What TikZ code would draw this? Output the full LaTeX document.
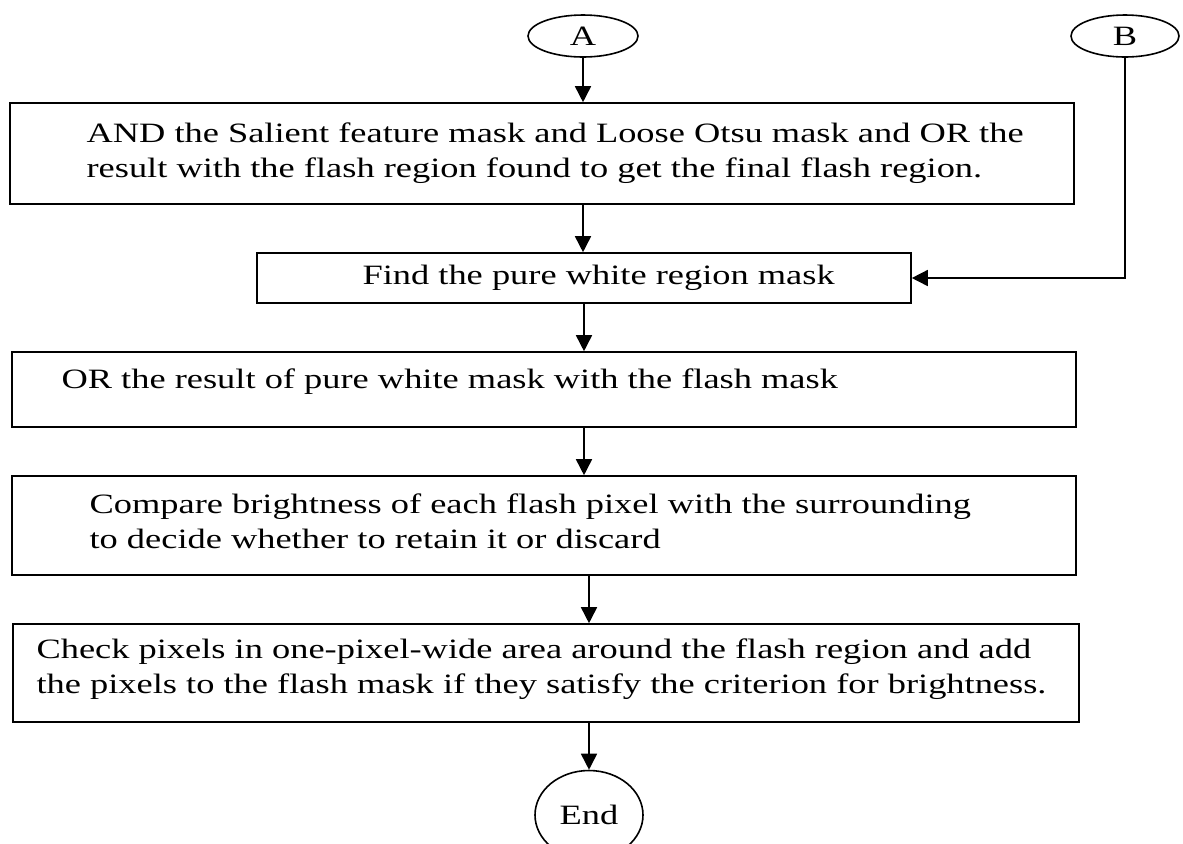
\documentclass[tikz,border=0pt]{standalone}
\usepackage{fontspec}
\setmainfont{Liberation Serif}[FakeStretch=1.3]
\usetikzlibrary{shapes.geometric,arrows.meta}

\begin{document}
\begin{tikzpicture}[x=0.5pt,y=-0.5pt,
  stepbox/.style={draw,line width=0.8pt,inner sep=0pt},
  steptext/.style={anchor=west,align=left,inner sep=0pt,font=\fontsize{14pt}{17.5pt}\selectfont},
  term/.style={draw,ellipse,line width=0.8pt,inner sep=0pt,font=\fontsize{14pt}{17.5pt}\selectfont},
  flow/.style={line width=0.8pt,-{Triangle[length=8pt,width=8pt]}}]
\useasboundingbox (0,0) rectangle (1183,843);
% connectors and terminals
\node [term,minimum width=55pt,minimum height=21pt] (A) at (583,36) {A};
\node [term,minimum width=54pt,minimum height=21pt] (B) at (1125,36) {B};
\node [term,minimum width=54pt,minimum height=44.5pt] (E) at (589,815) {End};
% process boxes
\node [stepbox,minimum width=532pt,minimum height=50.5pt] (b1) at (542,153.5) {};
\node [stepbox,minimum width=327pt,minimum height=25pt] (b2) at (584,278) {};
\node [stepbox,minimum width=532pt,minimum height=37.5pt] (b3) at (544,389.5) {};
\node [stepbox,minimum width=532pt,minimum height=49.5pt] (b4) at (544,525.5) {};
\node [stepbox,minimum width=533pt,minimum height=49pt] (b5) at (546,673) {};
\node [steptext] (t1) at ([xshift=38.5pt]b1.west) {AND the Salient feature mask and Loose Otsu mask and OR the\\result with the flash region found to get the final flash region.};
\node [steptext] (t2) at ([xshift=53pt]b2.west) {Find the pure white region mask};
\node [steptext] (t3) at ([xshift=25pt,yshift=4pt]b3.west) {OR the result of pure white mask with the flash mask};
\node [steptext] (t4) at ([xshift=39pt,yshift=2pt]b4.west) {Compare brightness of each flash pixel with the surrounding\\to decide whether to retain it or discard};
\node [steptext] (t5) at ([xshift=12pt,yshift=2pt]b5.west) {Check pixels in one-pixel-wide area around the flash region and add\\the pixels to the flash mask if they satisfy the criterion for brightness.};
% arrows
\draw [flow] (A) -- (b1.north -| A);
\draw [flow] (b1.south -| A) -- (b2.north -| A);
\draw [flow] (B) |- (b2.east);
\draw [flow] (b2.south) -- (b3.north -| b2);
\draw [flow] (b3.south -| b2) -- (b4.north -| b2);
\draw [flow] (b4.south -| E) -- (b5.north -| E);
\draw [flow] (b5.south -| E) -- (E);
\end{tikzpicture}
\end{document}
